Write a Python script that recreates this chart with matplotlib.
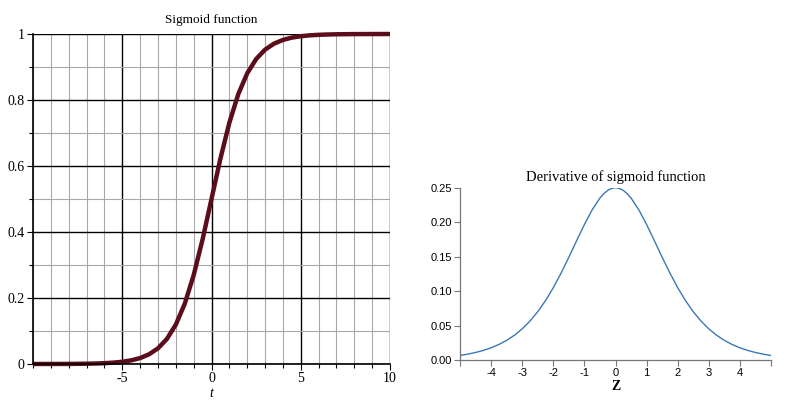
import numpy as np
import matplotlib.pyplot as plt
from matplotlib.ticker import MultipleLocator

plt.rcParams['axes.unicode_minus'] = False

# values
t_vals = [-10, -9.5, -9, -8.5, -8, -7.5, -7, -6.5, -6, -5.5, -5, -4.5, -4, -3.5,
          -3, -2.5, -2, -1.5, -1, -0.5, 0, 0.5, 1, 1.5, 2, 2.5, 3, 3.5, 4, 4.5,
          5, 5.5, 6, 6.5, 7, 7.5, 8, 8.5, 9, 9.5, 10]
sig_vals = [0.0000, 0.0001, 0.0001, 0.0002, 0.0003, 0.0006, 0.0009, 0.0015, 0.0025,
            0.0041, 0.0067, 0.0110, 0.0180, 0.0293, 0.0474, 0.0759, 0.1192, 0.1824,
            0.2689, 0.3775, 0.5000, 0.6225, 0.7311, 0.8176, 0.8808, 0.9241, 0.9526,
            0.9707, 0.9820, 0.9890, 0.9933, 0.9959, 0.9975, 0.9985, 0.9991, 0.9994,
            0.9997, 0.9998, 0.9999, 0.9999, 1.0000]

z_vals = [-5, -4.75, -4.5, -4.25, -4, -3.75, -3.5, -3.25, -3, -2.75, -2.5, -2.25,
          -2, -1.75, -1.5, -1.25, -1, -0.75, -0.5, -0.375, -0.25, -0.125, 0,
          0.125, 0.25, 0.375, 0.5, 0.75, 1, 1.25, 1.5, 1.75, 2, 2.25, 2.5, 2.75,
          3, 3.25, 3.5, 3.75, 4, 4.25, 4.5, 4.75, 5]
dsig_vals = [0.0066, 0.0085, 0.0109, 0.0139, 0.0177, 0.0225, 0.0285, 0.0359, 0.0452,
             0.0565, 0.0701, 0.0862, 0.1050, 0.1261, 0.1491, 0.1731, 0.1966, 0.2179,
             0.2350, 0.2414, 0.2461, 0.2490, 0.2500, 0.2490, 0.2461, 0.2414, 0.2350,
             0.2179, 0.1966, 0.1731, 0.1491, 0.1261, 0.1050, 0.0862, 0.0701, 0.0565,
             0.0452, 0.0359, 0.0285, 0.0225, 0.0177, 0.0139, 0.0109, 0.0085, 0.0066]

left_xticks = [-5, 0, 5, 10]
left_yticks = [0, 0.2, 0.4, 0.6, 0.8, 1]
left_ylabels = ['0', '0.2', '0.4', '0.6', '0.8', '1']
right_xticks = [-4, -3, -2, -1, 0, 1, 2, 3, 4]
right_yticks = [0.0, 0.05, 0.10, 0.15, 0.20, 0.25]

serif = 'Liberation Serif'
sans = 'Liberation Sans'

fig = plt.figure(figsize=(7.95, 4.0), dpi=100)

# ---- left: sigmoid
ax1 = fig.add_axes([33/795, 1-364/400, 357/795, 330/400])
ax1.set_xlim(-10, 10)
ax1.set_ylim(0, 1)
ax1.xaxis.set_minor_locator(MultipleLocator(1))
ax1.yaxis.set_minor_locator(MultipleLocator(0.1))
ax1.set_xticks(left_xticks)
ax1.set_yticks(left_yticks)
ax1.set_yticklabels(left_ylabels)
ax1.grid(which='minor', color='#a8a8a8', lw=0.8)
ax1.grid(which='major', color='black', lw=1.0)
ax1.set_axisbelow(True)
for s in ['top', 'right']:
    ax1.spines[s].set_visible(False)
ax1.spines['left'].set_linewidth(1.2)
ax1.spines['bottom'].set_linewidth(1.2)
ax1.tick_params(which='both', direction='out', length=3, width=0.8, pad=2)
ax1.tick_params(which='major', length=4)
for lab in ax1.get_xticklabels() + ax1.get_yticklabels():
    lab.set_fontfamily(serif)
    lab.set_fontsize(10)
ax1.plot(t_vals, sig_vals, color='#5c0d1c', lw=3.2, solid_capstyle='butt', clip_on=False)
ax1.set_title('Sigmoid function', fontfamily=serif, fontsize=9.5, pad=8)
ax1.set_xlabel('t', fontfamily=serif, fontstyle='italic', fontsize=10, labelpad=1)

# ---- right: derivative
ax2 = fig.add_axes([460/795, 1-360/400, 311/795, 172.3/400])
ax2.set_xlim(-5, 5)
ax2.set_ylim(0, 0.25)
ax2.plot(z_vals, dsig_vals, color='#3a78b5', lw=1.0)
ax2.set_xticks([-5] + right_xticks + [5])
ax2.set_xticklabels([''] + [str(v) for v in right_xticks] + [''])
ax2.set_yticks(right_yticks)
ax2.set_yticklabels(['%.2f' % v for v in right_yticks])
for s in ['top', 'right']:
    ax2.spines[s].set_visible(False)
for s in ['left', 'bottom']:
    ax2.spines[s].set_color('#777777')
    ax2.spines[s].set_linewidth(0.9)
ax2.tick_params(direction='out', length=4, width=0.8, color='#777777', pad=2, labelsize=8)
for lab in ax2.get_xticklabels() + ax2.get_yticklabels():
    lab.set_fontfamily(sans)
ax2.set_title('Derivative of sigmoid function', fontfamily=serif, fontsize=10.5, pad=5)
ax2.set_xlabel('Z', fontfamily=serif, fontweight='bold', fontsize=10, labelpad=1)

fig.savefig('out.png', dpi=100)
